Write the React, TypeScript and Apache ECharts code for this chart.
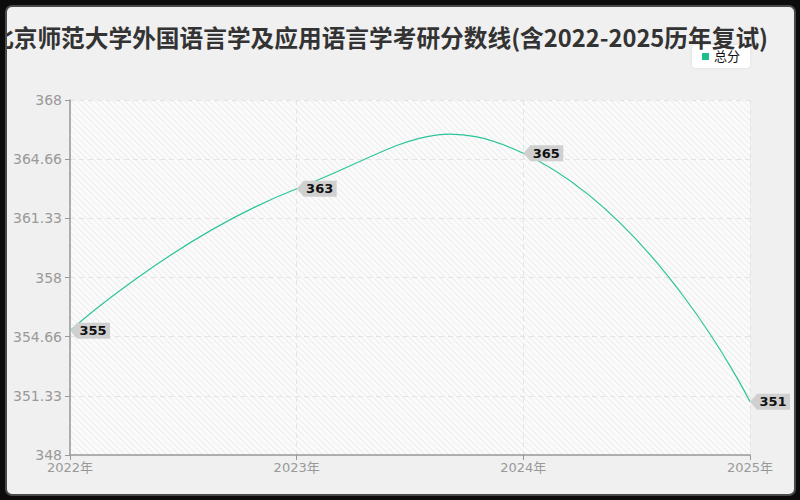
import { useEffect, useRef } from "react";
import * as echarts from "echarts";

const titleText = "北京师范大学外国语言学及应用语言学考研分数线(含2022-2025历年复试)";
const seriesName = "总分";
const years = ["2022年", "2023年", "2024年", "2025年"];
const totalScores = [355, 363, 365, 351];
const yTickValues = [348, 351.333, 354.667, 358, 361.333, 364.667, 368];
const yTickLabels = ["348", "351.33", "354.66", "358", "361.33", "364.66", "368"];

const FONT = "'DejaVu Sans', 'Noto Sans CJK SC', sans-serif";
const LINE_COLOR = "#2cc49a";

function makeStripes() {
  const c = document.createElement("canvas");
  c.width = 6;
  c.height = 6;
  const g = c.getContext("2d")!;
  g.fillStyle = "#fbfbfb";
  g.fillRect(0, 0, 6, 6);
  g.strokeStyle = "#eeeeee";
  g.lineWidth = 1.2;
  g.beginPath();
  g.moveTo(0, 0);
  g.lineTo(6, 6);
  g.moveTo(-2, 4);
  g.lineTo(2, 8);
  g.moveTo(4, -2);
  g.lineTo(8, 2);
  g.stroke();
  return c;
}

function yLabel(v: number) {
  const i = yTickValues.findIndex((t) => Math.abs(t - v) < 0.01);
  return i >= 0 ? yTickLabels[i] : String(v);
}

// old-style unconstrained bezier smoothing, so the curve overshoots like the original
function renderCurve(params: any, api: any) {
  if (params.dataIndex !== 0) return null;
  const pts = totalScores.map((v, i) => api.coord([i, v]));
  const n = pts.length;
  const smooth = 0.5;
  const cps: number[][] = [];
  for (let i = 0; i < n; i++) {
    const p = pts[i];
    if (i === 0 || i === n - 1) {
      cps.push([p[0], p[1]]);
      continue;
    }
    const prev = pts[i - 1];
    const next = pts[i + 1];
    const vx = (next[0] - prev[0]) * smooth;
    const vy = (next[1] - prev[1]) * smooth;
    let d0 = Math.hypot(p[0] - prev[0], p[1] - prev[1]);
    let d1 = Math.hypot(p[0] - next[0], p[1] - next[1]);
    const sum = d0 + d1;
    if (sum !== 0) {
      d0 /= sum;
      d1 /= sum;
    }
    cps.push([p[0] - vx * d0, p[1] - vy * d0]);
    cps.push([p[0] + vx * d1, p[1] + vy * d1]);
  }
  let d = `M${pts[0][0]},${pts[0][1]}`;
  for (let i = 0; i < n - 1; i++) {
    const c1 = cps[i * 2];
    const c2 = cps[i * 2 + 1];
    const p = pts[i + 1];
    d += ` C${c1[0]},${c1[1]} ${c2[0]},${c2[1]} ${p[0]},${p[1]}`;
  }
  return {
    type: "path",
    shape: { pathData: d },
    style: { fill: "none", stroke: LINE_COLOR, lineWidth: 1.2 },
  };
}

export default function App() {
  const ref = useRef<HTMLDivElement>(null);

  useEffect(() => {
    if (!ref.current) return;
    const chart = echarts.init(ref.current, undefined, { renderer: "svg" });

    chart.setOption({
      animation: false,
      title: {
        text: titleText,
        left: -15,
        top: 20,
        textStyle: {
          fontFamily: "'Noto Sans CJK SC', sans-serif",
          fontSize: 23.7,
          fontWeight: "bold",
          color: "#333",
        },
      },
      legend: {
        data: [seriesName],
        right: 50,
        top: 45,
        backgroundColor: "#fff",
        borderRadius: 4,
        padding: [5, 10],
        icon: "rect",
        itemWidth: 7,
        itemHeight: 7,
        itemGap: 6,
        shadowColor: "rgba(0,0,0,0.08)",
        shadowBlur: 3,
        textStyle: { fontFamily: FONT, fontSize: 13, color: "#111" },
      },
      grid: {
        left: 70,
        right: 50,
        top: 100,
        bottom: 45,
        show: true,
        borderWidth: 0,
        backgroundColor: { image: makeStripes(), repeat: "repeat" },
      },
      xAxis: {
        type: "category",
        data: years,
        boundaryGap: false,
        axisLine: { lineStyle: { color: "#999", width: 1.5 } },
        axisTick: { lineStyle: { color: "#999" } },
        axisLabel: { color: "#999", fontSize: 13, fontFamily: FONT, margin: 6 },
        splitLine: { show: true, lineStyle: { color: "#e4e4e4", type: [5, 4] } },
      },
      yAxis: {
        type: "value",
        min: 348,
        max: 368,
        axisLine: { show: true, lineStyle: { color: "#999", width: 1.5 } },
        axisTick: { show: true, customValues: yTickValues, lineStyle: { color: "#999" } },
        axisLabel: {
          customValues: yTickValues,
          formatter: yLabel,
          color: "#999",
          fontSize: 14,
          fontFamily: FONT,
          margin: 8,
        },
        splitLine: { show: true, lineStyle: { color: "#e4e4e4", type: [5, 4] } },
      },
      series: [
        {
          name: seriesName,
          type: "line",
          data: totalScores,
          showSymbol: false,
          color: "#1dbf8e",
          lineStyle: { opacity: 0 },
          z: 3,
          markPoint: {
            symbol: "path://M0,8 L7,0 L40,0 L40,16 L7,16 Z",
            symbolSize: [40, 16],
            symbolOffset: [20, 0],
            symbolKeepAspect: false,
            itemStyle: { color: "#d0d0d0" },
            label: {
              show: true,
              position: "inside",
              offset: [3, 0],
              color: "#111",
              fontSize: 13,
              fontWeight: "bold",
              fontFamily: FONT,
            },
            data: totalScores.map((v, i) => ({ coord: [years[i], v], value: v })),
          },
        },
        {
          name: "curve",
          type: "custom",
          data: totalScores.map((v, i) => [i, v]),
          encode: { x: 0, y: 1 },
          clip: false,
          z: 2,
          renderItem: renderCurve,
        },
      ],
    });

    return () => chart.dispose();
  }, []);

  return (
    <div style={{ position: "fixed", left: 0, top: 0, width: 800, height: 500, background: "#0c0c0c" }}>
      <div
        style={{
          position: "absolute",
          left: 5,
          top: 5,
          width: 787,
          height: 487,
          border: "2px solid #4a4a4a",
          borderRadius: 7,
          overflow: "hidden",
          background: "#f0f0f0",
        }}
      >
        <div ref={ref} style={{ position: "absolute", left: -7, top: -7, width: 800, height: 500 }} />
      </div>
    </div>
  );
}
